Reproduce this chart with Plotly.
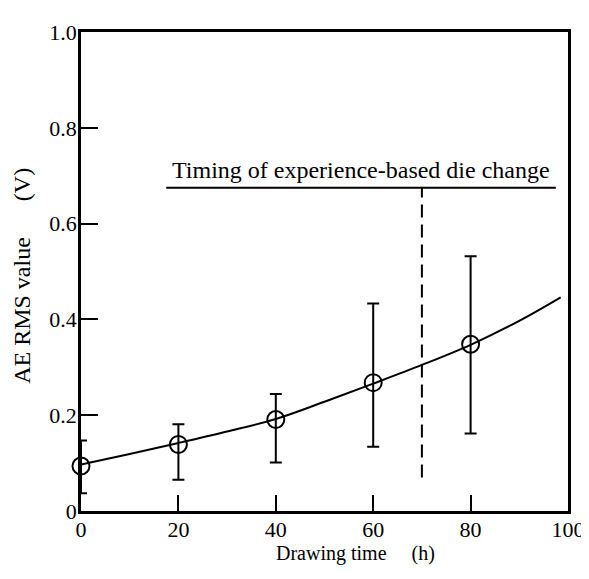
import plotly.graph_objects as go

# Measured points (drawing time h, AE RMS V)
time_h = [0, 20, 40, 60, 80]
rms_mean = [0.094, 0.139, 0.191, 0.268, 0.348]
rms_upper = [0.147, 0.181, 0.244, 0.433, 0.532]
rms_lower = [0.037, 0.065, 0.101, 0.134, 0.162]

# Fitted curve
curve_x = [0, 10, 20, 30, 40, 50, 60, 70, 80, 90, 98.5]
curve_y = [0.097, 0.119, 0.142, 0.166, 0.192, 0.228, 0.266, 0.305, 0.347, 0.397, 0.446]

# Experience-based die change marker
change_x = [70, 70]
change_y = [0.07, 0.675]
band_x = [17.5, 97.5]
band_y = [0.675, 0.675]
band_label = "Timing of experience-based die change"

x_ticks = [0, 20, 40, 60, 80, 100]
y_ticks = [0, 0.2, 0.4, 0.6, 0.8, 1.0]
y_tick_text = ["0", "0.2", "0.4", "0.6", "0.8", "1.0"]

err_plus = [u - m for u, m in zip(rms_upper, rms_mean)]
err_minus = [m - l for m, l in zip(rms_mean, rms_lower)]

FONT = "Liberation Serif, Times New Roman, serif"

fig = go.Figure()
fig.add_trace(go.Scatter(x=curve_x, y=curve_y, mode="lines", line=dict(color="black", width=2, shape="spline"),
                         hoverinfo="skip", showlegend=False, cliponaxis=False))
fig.add_trace(go.Scatter(x=change_x, y=change_y, mode="lines",
                         line=dict(color="black", width=2, dash="13px,7px"), showlegend=False))
fig.add_trace(go.Scatter(x=band_x, y=band_y, mode="lines",
                         line=dict(color="black", width=2), showlegend=False))
fig.add_trace(go.Scatter(
    x=time_h, y=rms_mean, mode="markers",
    marker=dict(symbol="circle-open", size=17, color="black", line=dict(width=2, color="black")),
    error_y=dict(type="data", symmetric=False, array=err_plus, arrayminus=err_minus,
                 color="black", thickness=2, width=6),
    showlegend=False, cliponaxis=False))

fig.add_annotation(x=(band_x[0] + band_x[1]) / 2, y=band_y[0], text=band_label, showarrow=False,
                   yanchor="bottom", yshift=3, font=dict(family=FONT, size=24, color="black"))

fig.add_annotation(x=-0.12, y=0.49, xref="paper", yref="paper",
                   text="AE RMS value\u00a0\u00a0\u00a0\u00a0\u00a0\u00a0(V)", showarrow=False, textangle=-90,
                   xanchor="center", yanchor="middle",
                   font=dict(family=FONT, size=24, color="black"))
fig.add_annotation(x=0.5646, y=0, xref="paper", yref="paper",
                   text="Drawing time\u00a0\u00a0\u00a0\u00a0\u00a0(h)", showarrow=False,
                   yanchor="top", yshift=-29, font=dict(family=FONT, size=20, color="black"))

fig.update_xaxes(range=[0, 100], tickvals=x_ticks, ticks="inside", ticklen=16, tickwidth=2,
                 tickcolor="black", showline=True, linecolor="black", linewidth=2.5, mirror=True,
                 showgrid=False, zeroline=False, ticklabelstandoff=-3,
                 tickfont=dict(family=FONT, size=22, color="black"))
fig.update_yaxes(range=[0, 1.0], tickvals=y_ticks, ticktext=y_tick_text, ticks="inside", ticklen=17,
                 tickwidth=2, tickcolor="black", showline=True, linecolor="black", linewidth=2.5,
                 mirror=True, showgrid=False, zeroline=False, ticklabelstandoff=-3,
                 tickfont=dict(family=FONT, size=22, color="black"))

fig.update_layout(width=589, height=579, margin=dict(l=73, r=29, t=14, b=76),
                  plot_bgcolor="white", paper_bgcolor="white", font=dict(family=FONT, color="black"))

fig.write_html("out.html")
